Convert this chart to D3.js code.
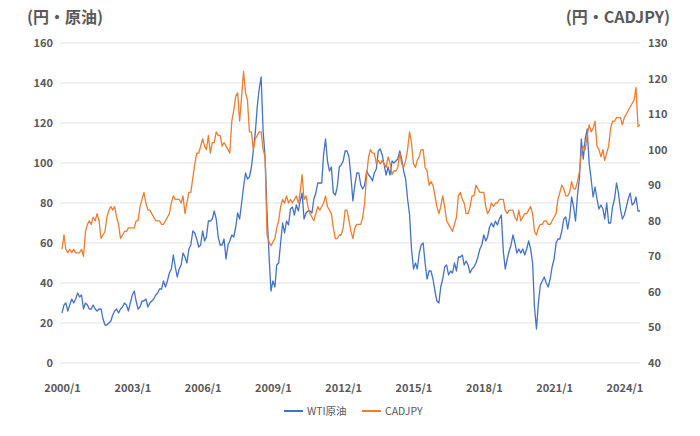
<!DOCTYPE html>
<html><head><meta charset="utf-8">
<script src="https://cdn.jsdelivr.net/npm/d3@7"></script>
<style>
html,body{margin:0;padding:0;background:#fff;}
text{font-family:"Noto Sans CJK JP","Noto Sans",sans-serif;}
</style></head>
<body><svg id="c" width="700" height="436"></svg>
<script>
// Monthly series from 2000/1 to 2024/9
const startDate = new Date(2000, 0, 1);
const wti = [
25,29,30,26,29,32,30,32,35,33,34,27,
30,29,27,27,29,27,26,27,27,22,19,19,
20,21,24,26,27,25,27,28,30,29,26,30,
34,36,31,27,28,31,31,32,28,30,31,32,
34,35,37,37,41,38,41,45,47,54,48,43,
47,49,55,53,50,57,59,66,65,62,58,59,
66,61,63,71,71,72,76,72,63,59,59,62,
52,59,61,64,63,68,75,72,80,88,95,92,
93,98,106,115,128,137,143,116,103,75,54,36,
41,38,49,50,60,70,65,71,69,77,78,74,
79,76,81,85,72,75,76,76,75,82,85,90,
90,90,104,112,101,96,98,85,84,88,98,99,
101,106,106,103,93,81,89,95,95,89,87,89,
96,94,93,91,95,97,106,107,104,99,94,98,
94,101,100,101,102,106,102,96,92,82,74,57,
47,50,47,55,59,60,50,42,46,46,42,36,
31,30,38,42,48,49,44,46,45,50,46,53,
53,54,49,51,49,45,47,48,50,53,57,59,
64,61,63,68,70,68,71,69,72,74,56,47,
52,56,59,64,60,55,57,55,57,54,57,61,
57,50,28,17,30,39,41,43,40,38,42,48,
52,60,62,62,66,72,73,67,73,83,78,71,
84,93,112,102,112,117,100,92,83,88,82,77,
79,77,72,80,70,70,78,82,90,85,77,72,
74,78,82,85,79,80,83,76,76
];
const cadjpy = [
72,76,72,71,72,71,72,71,71,71,72,70,
77,79,80,79,81,80,82,80,75,76,77,81,
83,84,83,84,81,79,75,76,77,77,78,78,
78,78,80,80,84,86,88,85,83,83,82,81,
80,80,80,79,79,80,81,82,85,87,86,86,
86,85,87,82,85,88,88,92,96,99,99,101,
103,101,100,104,99,102,102,105,104,104,101,102,
101,100,99,108,111,115,116,108,115,122,116,114,
105,105,100,103,104,105,105,100,98,76,74,73,
74,75,78,80,84,86,85,87,85,86,85,86,
87,85,88,93,86,87,84,82,81,80,82,84,
83,84,85,87,84,83,82,78,75,75,76,76,
78,83,83,80,77,75,78,79,79,79,81,85,
93,98,100,99,99,96,97,96,97,96,95,98,
96,93,94,94,95,99,96,95,97,100,105,102,
96,95,97,98,100,100,95,94,90,91,90,87,
84,82,84,87,84,80,79,78,77,79,81,87,
88,86,85,82,82,84,87,87,90,89,88,88,
88,84,82,83,85,84,85,85,86,86,86,83,
82,83,83,83,81,80,83,80,81,82,82,83,
84,82,77,76,78,79,79,80,80,79,79,80,
81,82,86,88,90,89,87,87,88,91,89,89,
91,94,99,101,100,104,107,105,106,108,101,100,
98,100,97,99,101,106,108,108,109,109,109,107,
109,110,111,112,113,114,117.5,106.5,107
];
const leftTicks = [0,20,40,60,80,100,120,140,160];
const rightTicks = [40,50,60,70,80,90,100,110,120,130];
const xTickLabels = ["2000/1","2003/1","2006/1","2009/1","2012/1","2015/1","2018/1","2021/1","2024/1"];
const seriesNames = ["WTI原油","CADJPY"];
const colors = ["#4472C4","#ED7D31"];

const svg = d3.select("#c");
const dates = wti.map((_, i) => d3.timeMonth.offset(startDate, i));
const x = d3.scaleTime().domain([startDate, dates[dates.length-1]]).range([62, 640]);
const yL = d3.scaleLinear().domain([0,160]).range([363,43]);
const yR = d3.scaleLinear().domain([40,130]).range([363,43]);
const textCol = "#595959";

// grid
svg.append("g").selectAll("line").data(leftTicks).join("line")
  .attr("x1",60).attr("x2",640)
  .attr("y1",d=>yL(d)).attr("y2",d=>yL(d))
  .attr("stroke","#e3e3e3").attr("stroke-width",1);

// left axis
const gL = svg.append("g").attr("transform","translate(53,0)")
  .call(d3.axisLeft(yL).tickValues(leftTicks).tickSize(0).tickPadding(0));
gL.select(".domain").remove();
gL.selectAll("text").attr("fill",textCol).attr("font-size",11).attr("font-weight",700);

// right axis
const gR = svg.append("g").attr("transform","translate(648,0)")
  .call(d3.axisRight(yR).tickValues(rightTicks).tickSize(0).tickPadding(0));
gR.select(".domain").remove();
gR.selectAll("text").attr("fill",textCol).attr("font-size",11).attr("font-weight",700);

// x axis
const xTickDates = xTickLabels.map(s => { const [y,m] = s.split("/").map(Number); return new Date(y, m-1, 1); });
const gX = svg.append("g").attr("transform","translate(0,384)")
  .call(d3.axisBottom(x).tickValues(xTickDates).tickSize(0).tickPadding(0)
    .tickFormat((d,i)=>xTickLabels[i]));
gX.select(".domain").remove();
gX.selectAll("text").attr("fill",textCol).attr("font-size",11).attr("font-weight",700);

// lines
const lineL = d3.line().x((d,i)=>x(dates[i])).y(d=>yL(d));
const lineR = d3.line().x((d,i)=>x(dates[i])).y(d=>yR(d));
svg.append("path").datum(wti).attr("d",lineL).attr("fill","none")
  .attr("stroke",colors[0]).attr("stroke-width",1.3).attr("stroke-linejoin","round");
svg.append("path").datum(cadjpy).attr("d",lineR).attr("fill","none")
  .attr("stroke",colors[1]).attr("stroke-width",1.3).attr("stroke-linejoin","round");

// titles
svg.append("text").attr("x",27).attr("y",23).text("(円・原油)")
  .attr("fill",textCol).attr("font-size",16).attr("font-weight",700);
svg.append("text").attr("x",670).attr("y",23).attr("text-anchor","end").text("(円・CADJPY)")
  .attr("fill",textCol).attr("font-size",16).attr("font-weight",700);

// legend
const lg = svg.append("g");
const legX = [284, 362];
seriesNames.forEach((n,i)=>{
  lg.append("line").attr("x1",legX[i]).attr("x2",legX[i]+19).attr("y1",411).attr("y2",411)
    .attr("stroke",colors[i]).attr("stroke-width",2);
  lg.append("text").attr("x",legX[i]+23).attr("y",415).text(n)
    .attr("fill",textCol).attr("font-size",10.5);
});
</script></body></html>
